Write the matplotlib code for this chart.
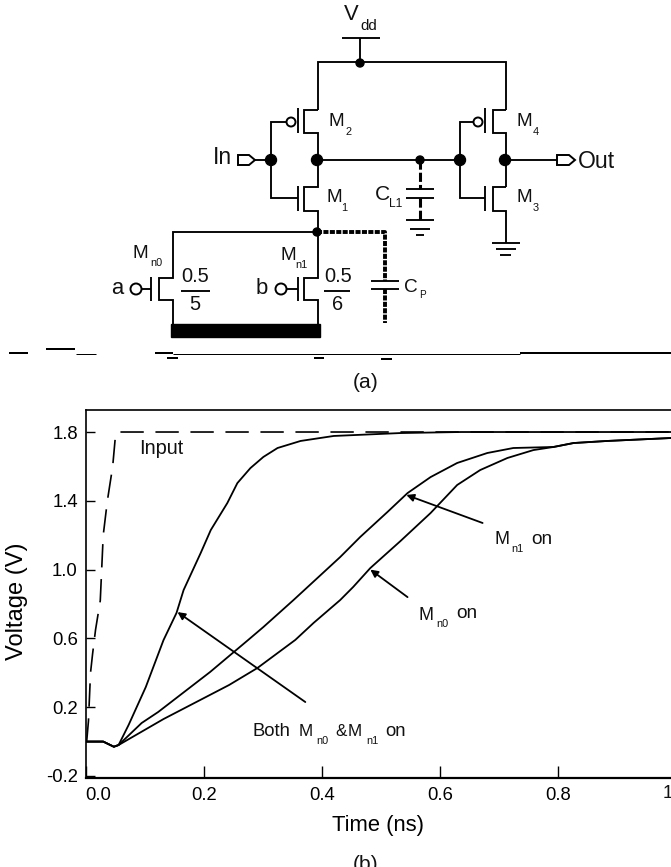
from matplotlib import pyplot as plt
from matplotlib.patches import Circle, Polygon, Rectangle

plt.rcParams['font.family'] = ['Liberation Sans', 'DejaVu Sans']

# curves
t_both = [0, 0.03, 0.048, 0.056, 0.073, 0.102, 0.132, 0.154, 0.166, 0.195, 0.212, 0.24, 0.257, 0.279,
          0.301, 0.325, 0.364, 0.42, 0.533, 0.635, 1.0]
v_both = [0, 0, -0.03, -0.02, 0.097, 0.317, 0.59, 0.748, 0.881, 1.097, 1.23, 1.387, 1.503, 1.59,
          1.655, 1.707, 1.748, 1.777, 1.794, 1.8, 1.8]
t_mn1 = [0, 0.03, 0.048, 0.056, 0.095, 0.123, 0.211, 0.275, 0.301, 0.352, 0.431, 0.465, 0.511,
         0.545, 0.584, 0.629, 0.68, 0.724, 0.792, 0.826, 0.883, 0.99]
v_mn1 = [0, 0, -0.03, -0.02, 0.108, 0.172, 0.405, 0.59, 0.666, 0.823, 1.073, 1.19, 1.335,
         1.445, 1.538, 1.62, 1.678, 1.707, 1.713, 1.736, 1.748, 1.765]
t_mn0 = [0, 0.03, 0.048, 0.056, 0.132, 0.243, 0.291, 0.355, 0.386, 0.431, 0.453, 0.482, 0.533,
         0.584, 0.629, 0.668, 0.714, 0.758, 0.792, 0.826, 0.883, 0.99]
v_mn0 = [0, 0, -0.03, -0.02, 0.131, 0.329, 0.428, 0.591, 0.69, 0.823, 0.899, 1.009, 1.166,
         1.329, 1.492, 1.579, 1.649, 1.695, 1.713, 1.736, 1.748, 1.765]
t_input = [0.002, 0.005, 0.0085, 0.012, 0.017, 0.025, 0.03, 0.037, 0.046, 0.051, 0.054, 1.0]
v_input = [0, 0.12, 0.4, 0.51, 0.65, 0.82, 1.2, 1.4, 1.6, 1.79, 1.8, 1.8]

x_ticks = [0.0, 0.2, 0.4, 0.6, 0.8]
x_tick_labels = ['0.0', '0.2', '0.4', '0.6', '0.8']
y_ticks = [-0.2, 0.2, 0.6, 1.0, 1.4, 1.8]
y_tick_labels = ['-0.2', '0.2', '0.6', '1.0', '1.4', '1.8']

# (tip, tail) of each arrow in data units
arrows = [((0.1557, 0.753), (0.372, 0.23)),
          ((0.543, 1.434), (0.672, 1.271)),
          ((0.482, 1.0), (0.545, 0.84))]

# schematic of panel (a), in picture pixels
wires = [
    [(342, 38), (380, 38)], [(360, 38), (360, 63)],
    [(317.5, 110), (317.5, 62), (505.5, 62), (505.5, 110)],
    [(317.5, 232), (317.5, 211), (304, 211), (304, 187), (317.5, 187), (317.5, 133),
     (304, 133), (304, 110), (317.5, 110)],
    [(505.5, 187), (505.5, 133), (493, 133), (493, 110), (505.5, 110)],
    [(505.5, 243), (505.5, 211), (493, 211), (493, 187), (505.5, 187)],
    [(287, 122), (271, 122), (271, 198), (298, 198)],
    [(473, 122), (460, 122), (460, 198), (485, 198)],
    [(255, 160), (271, 160)], [(317, 160), (460, 160)], [(505, 160), (557, 160)],
    [(298, 108), (298, 133)], [(298, 186), (298, 211)],
    [(485, 108), (485, 133)], [(485, 186), (485, 211)],
    [(406, 189), (434, 189)], [(406, 198), (434, 198)],
    [(406, 220), (434, 220)], [(410, 229), (430, 229)], [(416, 235), (424, 235)],
    [(492, 243), (520, 243)], [(496, 249), (516, 249)], [(500, 255), (511, 255)],
    [(172.5, 325), (172.5, 300), (159, 300), (159, 278), (172.5, 278), (172.5, 232), (317.5, 232)],
    [(317.5, 325), (317.5, 300), (304, 300), (304, 278), (317.5, 278), (317.5, 232)],
    [(151, 277), (151, 301)], [(141, 289), (151, 289)],
    [(298, 277), (298, 301)], [(286, 289), (298, 289)],
    [(181, 291), (210, 291)], [(324, 291), (350, 291)],
    [(371, 281), (399, 281)], [(371, 289), (399, 289)],
]
dashed_wires = [[(420, 160), (420, 189)], [(420, 198), (420, 220)]]
dotted_wires = [[(317, 232), (385, 232), (385, 281)], [(385, 289), (385, 323)]]
big_dots = [(271, 160), (317, 160), (460, 160), (505, 160)]
small_dots = [(360, 63), (420, 160), (317, 232)]
bubbles = [(291, 122, 4.5), (478, 122, 4.5), (136, 289, 5.5), (281, 289, 5.5)]
ports = [[(238, 155), (249, 155), (255, 160), (249, 165), (238, 165)],
         [(557, 155), (569, 155), (575, 160), (569, 165), (557, 165)]]

# broken scan line under the schematic: x0, x1, y, width
scan_lines = [(9, 28, 353, 2), (46, 75, 349, 2), (76, 96, 353.5, 1), (155, 173, 353, 2),
              (173, 520, 353.5, 1), (520, 671, 353, 2), (167, 178, 358, 2),
              (314, 324, 358, 2), (381, 392, 359, 2)]

# text: x, y, string, pixel size, horizontal alignment
labels = [
    (351, 15, 'V', 22, 'center'), (369, 26, 'dd', 15, 'center'),
    (232, 158, 'In', 23, 'right'), (578, 161, 'Out', 23, 'left'),
    (329, 121, 'M', 19, 'left'), (345, 132, '2', 11, 'left'),
    (517, 121, 'M', 19, 'left'), (533, 132, '4', 11, 'left'),
    (326, 198, 'M', 19, 'left'), (341, 208, '1', 11, 'left'),
    (517, 198, 'M', 19, 'left'), (533, 208, '3', 11, 'left'),
    (375, 195, 'C', 21, 'left'), (389, 204, 'L1', 12, 'left'),
    (404, 287, 'C', 19, 'left'), (419, 295, 'P', 10, 'left'),
    (133, 254, 'M', 19, 'left'), (150, 263, 'n0', 11, 'left'),
    (280, 256, 'M', 19, 'left'), (295, 265, 'n1', 11, 'left'),
    (117, 289, 'a', 22, 'center'), (262, 289, 'b', 22, 'center'),
    (195, 277, '0.5', 20, 'center'), (195, 305, '5', 20, 'center'),
    (338, 277, '0.5', 20, 'center'), (338, 305, '6', 20, 'center'),
    (366, 383, '(a)', 21, 'center'), (366, 864, '(b)', 21, 'center'),
    (139, 448, 'Input', 20, 'left'),
    (494, 540, 'M', 18, 'left'), (511, 549, 'n1', 11, 'left'), (531, 539, 'on', 19, 'left'),
    (419, 615, 'M', 18, 'left'), (436, 624, 'n0', 11, 'left'), (456, 614, 'on', 19, 'left'),
    (252, 732, 'Both', 18.5, 'left'), (299, 732, 'M', 17, 'left'), (316, 741, 'n0', 11, 'left'),
    (335, 732, '&', 17, 'left'), (348, 732, 'M', 17, 'left'), (366, 741, 'n1', 11, 'left'),
    (385, 732, 'on', 18.5, 'left'),
    # the last x tick label runs off the right edge
    (675, 794, '1.0', 18.5, 'center'),
]


def draw_schematic(ax):
    for wire in wires:
        ax.plot(*zip(*wire), color='black', lw=1.35, solid_joinstyle='miter', solid_capstyle='butt')
    for wire in dashed_wires:
        ax.plot(*zip(*wire), color='black', lw=2.2, dashes=(3, 1))
    for wire in dotted_wires:
        ax.plot(*zip(*wire), color='black', lw=2.8, dashes=(1.3, 0.35))
    for x, y in big_dots:
        ax.add_patch(Circle((x, y), 5.5, color='black', zorder=3))
    for x, y in small_dots:
        ax.add_patch(Circle((x, y), 4, color='black', zorder=3))
    for x, y, r in bubbles:
        ax.add_patch(Circle((x, y), r, fc='white', ec='black', lw=1.4, zorder=3))
    for port in ports:
        ax.add_patch(Polygon(port, closed=True, fc='white', ec='black', lw=1.4, zorder=3))
    ax.add_patch(Rectangle((171, 324), 149, 13, color='black'))
    for x0, x1, y, width in scan_lines:
        ax.plot([x0, x1], [y, y], color='black', lw=width * 0.72, solid_capstyle='butt')
    for x, y, s, size, ha in labels:
        ax.text(x, y, s, fontsize=size * 0.72, ha=ha, va='center', color='#111111')


def plot_curves(ax):
    ax.plot(t_input, v_input, color='black', lw=1.2, dashes=(14, 7))
    for t, v in [(t_both, v_both), (t_mn1, v_mn1), (t_mn0, v_mn0)]:
        ax.plot(t, v, color='black', lw=1.3)
    for tip, tail in arrows:
        ax.annotate('', xy=tip, xytext=tail,
                    arrowprops=dict(arrowstyle='-|>', color='black', lw=1.3, mutation_scale=11,
                                    shrinkA=0, shrinkB=0))

    ax.set_xticks(x_ticks, x_tick_labels)
    ax.set_yticks(y_ticks, y_tick_labels)
    ax.set_xlim(0, 0.99)
    ax.set_ylim(-0.21, 1.928)
    ax.get_xticklabels()[0].set_ha('left')
    ax.tick_params(axis='x', direction='in', length=8.5, width=1, pad=7, labelsize=13.3)
    ax.tick_params(axis='y', direction='in', length=6.5, width=1, pad=5.5, labelsize=13.3)
    ax.set_xlabel('Time (ns)', fontsize=15.8, labelpad=7.5)
    ax.set_ylabel('Voltage (V)', fontsize=17)
    ax.yaxis.set_label_coords(-0.099, 0.48)
    for side in ['left', 'top']:
        ax.spines[side].set_linewidth(1.2)
    ax.spines['bottom'].set_linewidth(1.6)
    ax.spines['right'].set_linewidth(0.5)
    ax.spines['right'].set_color('#999999')


def main():
    fig = plt.figure(figsize=(6.71, 8.67), dpi=100)

    overlay = fig.add_axes([0, 0, 1, 1])
    overlay.set_xlim(0, 671)
    overlay.set_ylim(867, 0)
    overlay.axis('off')
    draw_schematic(overlay)

    chart = fig.add_axes([85.5 / 671, 1 - 777.7 / 867, 585 / 671, 367.7 / 867])
    chart.patch.set_alpha(0)
    plot_curves(chart)

    fig.savefig('out.png', dpi=100)


if __name__ == "__main__":
    main()
